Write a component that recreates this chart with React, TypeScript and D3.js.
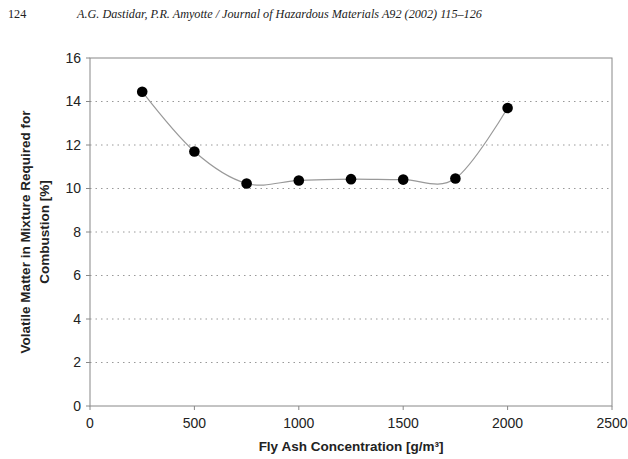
import React from "react";
import * as d3 from "d3";

const concentrations = [250, 500, 750, 1000, 1250, 1500, 1750, 2000];
const volatileMatter = [14.45, 11.7, 10.23, 10.37, 10.43, 10.41, 10.46, 13.7];
const xTicks = [0, 500, 1000, 1500, 2000, 2500];
const yTicks = [0, 2, 4, 6, 8, 10, 12, 14, 16];

const width = 628;
const height = 459;
const margin = { top: 58, right: 16, bottom: 53, left: 90 };

const App: React.FC = () => {
  const x = d3
    .scaleLinear()
    .domain([0, 2500])
    .range([margin.left, width - margin.right]);
  const y = d3
    .scaleLinear()
    .domain([0, 16])
    .range([height - margin.bottom, margin.top]);

  const points = concentrations.map((c, i) => [c, volatileMatter[i]] as [number, number]);

  const line = d3
    .line<[number, number]>()
    .x(d => x(d[0]))
    .y(d => y(d[1]))
    .curve(d3.curveCardinal.tension(0));

  const font = "Arial, 'Liberation Sans', sans-serif";
  const y0 = y(0);

  return (
    <svg
      width={width}
      height={height}
      style={{ position: "absolute", left: 0, top: 0, background: "#fff" }}
    >
      {/* page header */}
      <text x={8} y={18} fontFamily="'Liberation Serif', serif" fontSize={12.2} fill="#222">
        124
      </text>
      <text
        x={77}
        y={18}
        fontFamily="'Liberation Serif', serif"
        fontStyle="italic"
        fontSize={12.2}
        fill="#222"
      >
        A.G. Dastidar, P.R. Amyotte / Journal of Hazardous Materials A92 (2002) 115–126
      </text>

      {/* gridlines */}
      {yTicks
        .filter(t => t > 0 && t < 16)
        .map(t => (
          <line
            key={`g${t}`}
            x1={x(0)}
            x2={x(2500)}
            y1={y(t)}
            y2={y(t)}
            stroke="#999"
            strokeDasharray="1.5,4"
          />
        ))}

      {/* plot frame */}
      <rect
        x={x(0)}
        y={y(16)}
        width={x(2500) - x(0)}
        height={y(0) - y(16)}
        fill="none"
        stroke="#888"
      />

      {/* y ticks */}
      {yTicks.map(t => (
        <g key={`y${t}`}>
          <line x1={x(0) - 4} x2={x(0)} y1={y(t)} y2={y(t)} stroke="#888" />
          <text
            x={x(0) - 9}
            y={y(t)}
            dy="0.35em"
            textAnchor="end"
            fontFamily={font}
            fontSize={14}
            fill="#222"
          >
            {t}
          </text>
        </g>
      ))}

      {/* x ticks */}
      {xTicks.map(t => (
        <g key={`x${t}`}>
          <line x1={x(t)} x2={x(t)} y1={y0} y2={y0 + 4} stroke="#888" />
          <text
            x={x(t)}
            y={y0 + 22}
            textAnchor="middle"
            fontFamily={font}
            fontSize={14}
            fill="#222"
          >
            {t}
          </text>
        </g>
      ))}

      {/* smoothed line */}
      <path d={line(points) ?? ""} fill="none" stroke="#999" strokeWidth={1.2} />

      {/* markers */}
      {points.map(p => (
        <circle key={p[0]} cx={x(p[0])} cy={y(p[1])} r={5.3} fill="#000" />
      ))}

      {/* axis titles */}
      <text
        x={(x(0) + x(2500)) / 2}
        y={451}
        textAnchor="middle"
        fontFamily={font}
        fontWeight="bold"
        fontSize={13.5}
        fill="#222"
      >
        Fly Ash Concentration [g/m³]
      </text>
      <g transform={`translate(30,${(y(0) + y(16)) / 2}) rotate(-90)`}>
        <text textAnchor="middle" fontFamily={font} fontWeight="bold" fontSize={13.5} fill="#222">
          Volatile Matter in Mixture Required for
        </text>
        <text y={19} textAnchor="middle" fontFamily={font} fontWeight="bold" fontSize={13.5} fill="#222">
          Combustion [%]
        </text>
      </g>
    </svg>
  );
};

export default App;
